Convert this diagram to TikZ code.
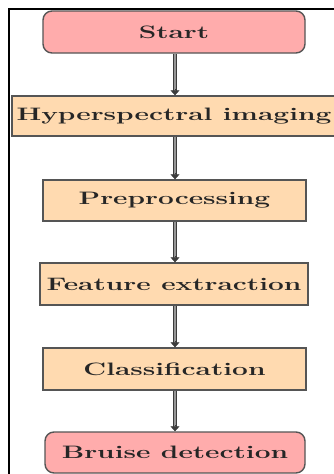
\documentclass[tikz,border=0pt]{standalone}
\usetikzlibrary{arrows.meta}

\definecolor{termfill}{RGB}{255,172,172}
\definecolor{procfill}{RGB}{255,218,176}
\definecolor{edgegray}{RGB}{85,85,85}
\definecolor{flowdark}{RGB}{60,60,60}
\definecolor{flowlight}{RGB}{150,150,150}

% wide bold label, stretched horizontally
\newcommand{\widelabel}[1]{\scalebox{1.56}[1]{\fontsize{18}{21}\selectfont\bfseries #1}}

\tikzset{
  frameline/.style={draw=black, line width=2pt},
  basebox/.style={draw=edgegray, line width=1.4pt, inner sep=0pt,
    text=black!85, anchor=center},
  termbox/.style={basebox, fill=termfill, rounded corners=9pt},
  procbox/.style={basebox, fill=procfill},
  flowshaft/.style={draw=flowdark, line width=1pt, double=flowlight,
    double distance=2pt, shorten >=4pt},
  flowtip/.style={draw=flowdark, line width=0.6pt,
    -{Triangle[width=9pt,length=5pt,fill=flowdark]}}
}

\begin{document}
\begin{tikzpicture}[x=1pt, y=-1pt]
  \useasboundingbox (0,0) rectangle (333,474);

  % outer frame (top and left edges)
  \draw[frameline] (8.7,480) -- (8.7,8.7) -- (340,8.7);

  % flow steps
  \node[termbox, minimum width=262pt, minimum height=42pt] (start) at (174,32)
    {\widelabel{Start}};
  \node[procbox, minimum width=324pt, minimum height=40pt] (hsi) at (174,116)
    {\widelabel{Hyperspectral imaging}};
  \node[procbox, minimum width=263pt, minimum height=41pt] (pre) at (174.5,200.5)
    {\widelabel{Preprocessing}};
  \node[procbox, minimum width=268pt, minimum height=42pt] (feat) at (174,284)
    {\widelabel{Feature extraction}};
  \node[procbox, minimum width=263pt, minimum height=42pt] (cls) at (174.5,369)
    {\widelabel{Classification}};
  \node[termbox, minimum width=260pt, minimum height=41pt] (bruise) at (175,452.5)
    {\widelabel{Bruise detection}};

  % connectors: outlined grey shaft with a dark head
  \foreach \from/\to in {start/hsi, hsi/pre, pre/feat, feat/cls, cls/bruise} {
    \draw[flowshaft] (\from.south -| 175,0) -- (\to.north -| 175,0);
    \draw[flowtip] (\to.north -| 175,0) ++(0,-6) -- (\to.north -| 175,0);
  }
\end{tikzpicture}
\end{document}
